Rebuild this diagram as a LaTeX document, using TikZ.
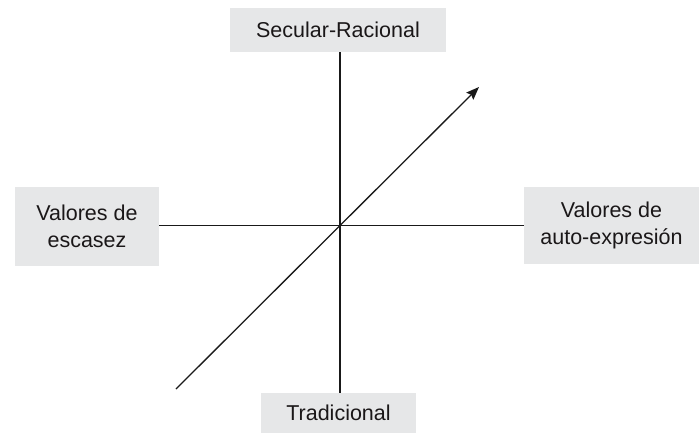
\documentclass[tikz,border=0pt]{standalone}
\usepackage{fontspec}
\setmainfont{Liberation Sans}
\usetikzlibrary{arrows.meta}
\definecolor{boxgray}{HTML}{E6E7E8}
\definecolor{txt}{HTML}{1A1718}
\begin{document}
\begin{tikzpicture}[x=1pt,y=-1pt,
  lbl/.style={fill=boxgray,inner sep=0pt,align=center,text=txt,
    font=\fontsize{21.5}{27}\selectfont},
  axis/.style={line width=1.3pt,draw=black!90}]
\useasboundingbox (0,0) rectangle (699,434);
\node[lbl,minimum width=216pt,minimum height=44pt] (top) at (338,30) {Secular-Racional};
\node[lbl,minimum width=144pt,minimum height=79pt] (left) at (87,226.5) {Valores de\\escasez};
\node[lbl,minimum width=175pt,minimum height=77pt] (right) at (611.5,225.5) {Valores de\\auto-expresión};
\node[lbl,minimum width=155pt,minimum height=40pt] (bottom) at (338.5,413) {Tradicional};
\coordinate (c) at (340,225.7);
\coordinate (d1) at (176,389);
\coordinate (d2) at (479,87);
\draw[axis] (c |- top.south) -- (c |- bottom.north);
\draw[axis] (left.east |- c) -- (right.west |- c);
\draw[axis,-{Stealth[length=13pt,width=10pt,inset=2pt]}] (d1) -- (d2);
\end{tikzpicture}
\end{document}
